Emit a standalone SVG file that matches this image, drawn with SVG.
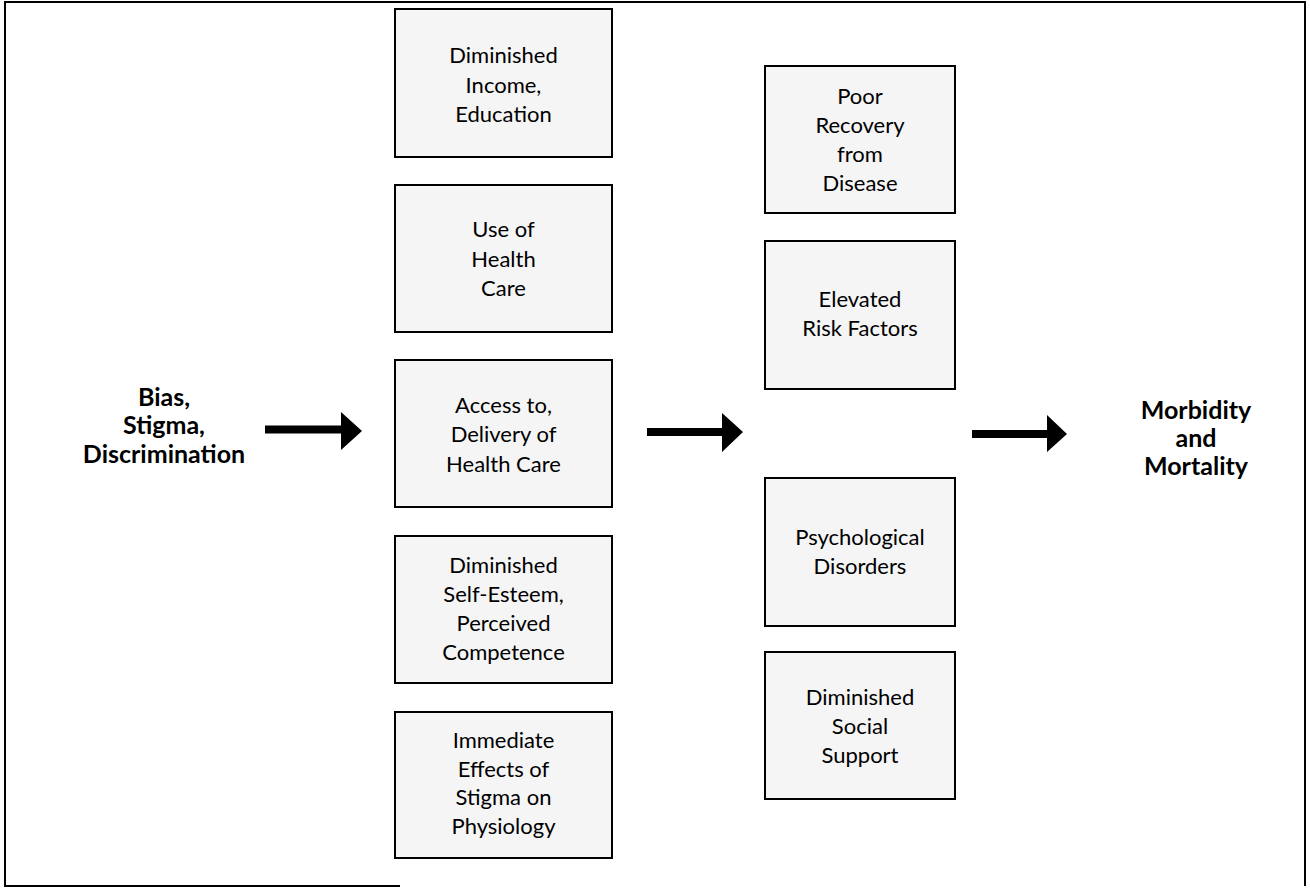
<svg xmlns="http://www.w3.org/2000/svg" width="1310" height="889" viewBox="0 0 1310 889">
<style>
.box{fill:#f5f5f5;stroke:#000;stroke-width:2}
.t{font-family:Lato,"Open Sans","Liberation Sans",sans-serif;font-size:22px;fill:#000;text-anchor:middle}
.b{font-family:Lato,"Open Sans","Liberation Sans",sans-serif;font-size:25px;font-weight:bold;fill:#000;text-anchor:middle}
.arr{fill:#000}
</style>
<rect width="1310" height="889" fill="#fff"/>
<path d="M400 886 H5 V2 H1305 V886" fill="none" stroke="#000" stroke-width="2"/>

<g id="bias">
<text class="b" x="164" y="406">Bias,</text>
<text class="b" x="164" y="434">Stigma,</text>
<text class="b" x="164" y="463">Discrimination</text>
</g>

<g id="income">
<rect class="box" x="395" y="9" width="217" height="148"/>
<text class="t" x="503.5" y="63">Diminished</text>
<text class="t" x="503.5" y="93">Income,</text>
<text class="t" x="503.5" y="122">Education</text>
</g>
<g id="use-health-care">
<rect class="box" x="395" y="185" width="217" height="147"/>
<text class="t" x="503.5" y="237">Use of</text>
<text class="t" x="503.5" y="267">Health</text>
<text class="t" x="503.5" y="296">Care</text>
</g>
<g id="access">
<rect class="box" x="395" y="360" width="217" height="147"/>
<text class="t" x="503.5" y="413">Access to,</text>
<text class="t" x="503.5" y="442">Delivery of</text>
<text class="t" x="503.5" y="472">Health Care</text>
</g>
<g id="self-esteem">
<rect class="box" x="395" y="536" width="217" height="147"/>
<text class="t" x="503.5" y="573">Diminished</text>
<text class="t" x="503.5" y="602">Self-Esteem,</text>
<text class="t" x="503.5" y="631">Perceived</text>
<text class="t" x="503.5" y="660">Competence</text>
</g>
<g id="immediate">
<rect class="box" x="395" y="712" width="217" height="146"/>
<text class="t" x="503.5" y="748">Immediate</text>
<text class="t" x="503.5" y="777">Effects of</text>
<text class="t" x="503.5" y="805">Stigma on</text>
<text class="t" x="503.5" y="834">Physiology</text>
</g>

<g id="poor-recovery">
<rect class="box" x="765" y="66" width="190" height="147"/>
<text class="t" x="860" y="104">Poor</text>
<text class="t" x="860" y="133">Recovery</text>
<text class="t" x="860" y="162">from</text>
<text class="t" x="860" y="191">Disease</text>
</g>
<g id="risk-factors">
<rect class="box" x="765" y="241" width="190" height="148"/>
<text class="t" x="860" y="307">Elevated</text>
<text class="t" x="860" y="336">Risk Factors</text>
</g>
<g id="psychological">
<rect class="box" x="765" y="478" width="190" height="148"/>
<text class="t" x="860" y="545">Psychological</text>
<text class="t" x="860" y="574">Disorders</text>
</g>
<g id="social-support">
<rect class="box" x="765" y="652" width="190" height="147"/>
<text class="t" x="860" y="705">Diminished</text>
<text class="t" x="860" y="734">Social</text>
<text class="t" x="860" y="763">Support</text>
</g>

<g id="morbidity">
<text class="b" x="1196" y="419">Morbidity</text>
<text class="b" x="1196" y="447">and</text>
<text class="b" x="1196" y="475">Mortality</text>
</g>

<g id="connectors">
<polygon class="arr" points="265,425.5 341,425.5 341,412 362,431 341,450 341,433.5 265,433.5"/>
<polygon class="arr" points="647,428 722,428 722,413 743,432 722,452 722,436 647,436"/>
<polygon class="arr" points="972,430 1047,430 1047,415 1067,434 1047,452 1047,438 972,438"/>
</g>
</svg>
